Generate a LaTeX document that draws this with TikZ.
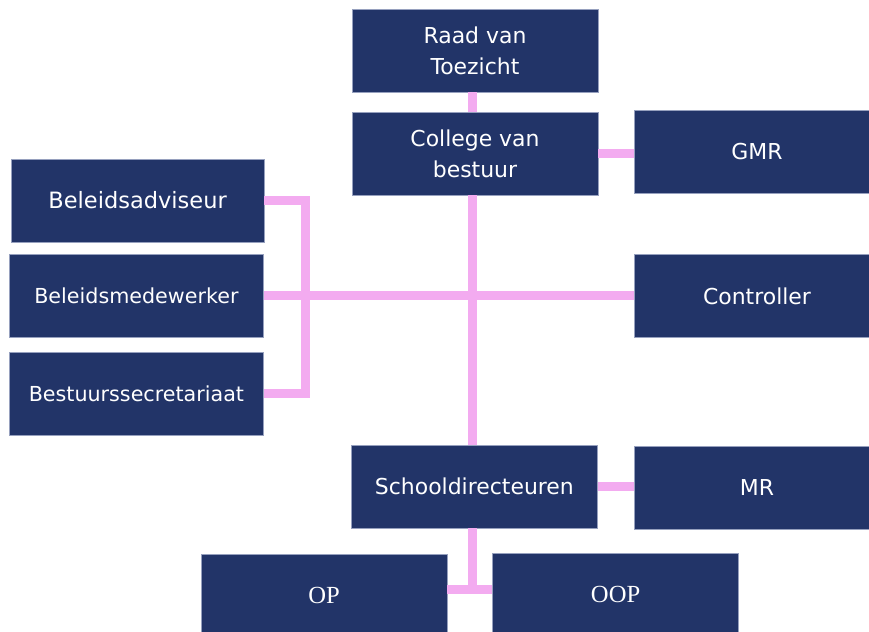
\documentclass[tikz,border=0pt]{standalone}
\usepackage{fontspec}
\setmainfont{DejaVu Sans}
\newfontfamily\timesfont{Liberation Serif}
\usepackage{tikz}
\usetikzlibrary{positioning,calc}
\definecolor{navy}{RGB}{34,52,104}
\definecolor{rim}{RGB}{150,160,190}
\definecolor{lijn}{RGB}{243,171,240}

\begin{document}
\begin{tikzpicture}[
  box/.style  = {draw=rim, line width=0.4pt, fill=navy, text=white, align=center,
                 minimum width=6.15cm, minimum height=2.08cm, inner sep=0pt,
                 font=\fontsize{15.6}{22}\selectfont},
  lbox/.style = {box, minimum width=6.35cm, font=\fontsize{14.7}{20}\selectfont},
  pbox/.style = {box, font=\timesfont\fontsize{17.5}{21}\selectfont},
  wire/.style = {draw=lijn, line width=6.4pt},
]
\useasboundingbox (0,0) rectangle (21.725,15.8);

% ========== Bestuur (centre) ==========
\node[box] (raad) at (11.875, 14.54) {Raad van\\Toezicht};
\node[box] (cvb)  at (11.875, 11.96) {College van\\bestuur};
\node[box] (gmr)  at (18.925, 12.01) {GMR};

% ========== Staf (left) ==========
\node[box, minimum width=6.325cm, font=\fontsize{16}{22}\selectfont]
           (advies) at (3.44, 10.79) {Beleidsadviseur};
\node[lbox] (medew) at (3.41, 8.40) {Beleidsmedewerker};
\node[lbox] (secr)  at (3.41, 5.95) {Bestuurssecretariaat};

% ========== Control (right) ==========
\node[box] (contr) at (18.925, 8.40) {Controller};

% ========== Scholen (bottom) ==========
\node[box]  (dir) at (11.86, 3.64) {Schooldirecteuren};
\node[box]  (mr)  at (18.925, 3.60) {MR};
\node[pbox] (op)  at (8.10, 0.91) {OP};
\node[pbox] (oop) at (15.39, 0.94) {OOP};

% ========== Lijnen ==========
\coordinate (trunk) at (11.8, 0);
\coordinate (brk)   at (7.625, 0);
\coordinate (bot)   at (11.8, 1.05);

\draw[wire] (raad.south -| trunk) -- (cvb.north -| trunk);
\draw[wire] (cvb.south -| trunk) -- (dir.north -| trunk);
\draw[wire] (cvb.east) -- (gmr.west |- cvb.east);
\draw[wire] (medew.east) -- (contr.west |- medew.east);
\draw[wire] (advies.east) -- (advies.east -| brk) -- (secr.east -| brk) -- (secr.east);
\draw[wire] (dir.east) -- (mr.west |- dir.east);
\draw[wire] (dir.south -| trunk) -- (bot);
\draw[wire] (op.east |- bot) -- (oop.west |- bot);

\end{tikzpicture}
\end{document}
